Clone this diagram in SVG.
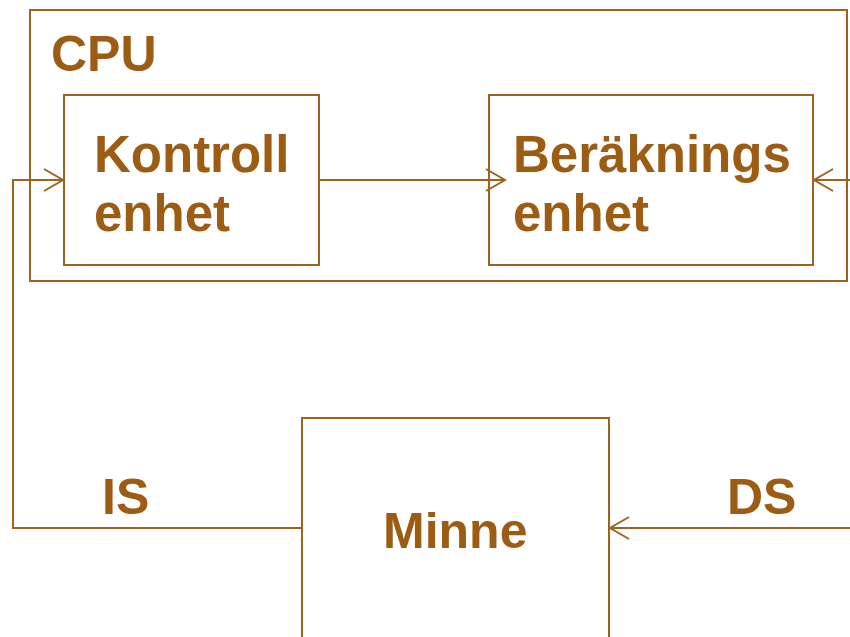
<svg xmlns="http://www.w3.org/2000/svg" width="850" height="637" viewBox="0 0 850 637">
<style>
.box{fill:none;stroke:#A0631E;stroke-width:2}
.ln{fill:none;stroke:#A0631E;stroke-width:2}
.t{font-family:"Liberation Sans",Arial,sans-serif;font-weight:bold;font-size:50px;fill:#9C5C14}
.big{font-size:51px}
</style>
<defs>
<marker id="ah" markerUnits="userSpaceOnUse" markerWidth="24" markerHeight="26" refX="20" refY="12" orient="auto" viewBox="0 0 24 26">
<path d="M1,1 L20,12 L1,23" fill="none" stroke="#A0631E" stroke-width="2"/>
</marker>
</defs>
<rect width="850" height="637" fill="#fff"/>
<g id="cpu">
<rect class="box" x="30" y="10" width="817" height="271"/>
<text class="t" x="51" y="71">CPU</text>
</g>
<g id="kontroll">
<rect class="box" x="64" y="95" width="255" height="170"/>
<text class="t big" x="94" y="172">Kontroll</text>
<text class="t big" x="94" y="231">enhet</text>
</g>
<g id="berakning">
<rect class="box" x="489" y="95" width="324" height="170"/>
<text class="t big" x="513" y="172">Beräknings</text>
<text class="t big" x="513" y="231">enhet</text>
</g>
<g id="minne">
<rect class="box" x="302" y="418" width="307" height="240"/>
<text class="t" x="383" y="548">Minne</text>
</g>
<g id="connectors">
<polyline class="ln" points="302,528 13,528 13,180 63,180" marker-end="url(#ah)"/>
<line class="ln" x1="319" y1="180" x2="505" y2="180" marker-end="url(#ah)"/>
<line class="ln" x1="850" y1="180" x2="814" y2="180" marker-end="url(#ah)"/>
<line class="ln" x1="850" y1="528" x2="610" y2="528" marker-end="url(#ah)"/>
<text class="t" x="102" y="514">IS</text>
<text class="t" x="727" y="514">DS</text>
</g>
</svg>
